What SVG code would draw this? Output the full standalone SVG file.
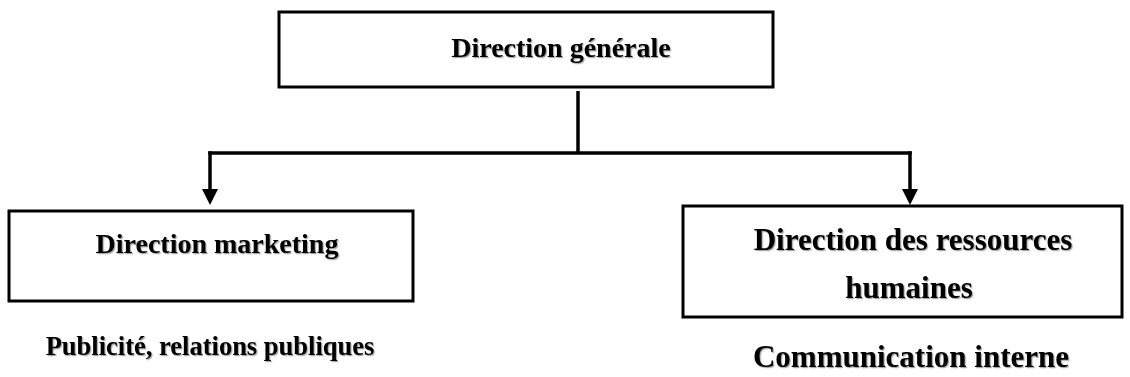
<svg xmlns="http://www.w3.org/2000/svg" width="1130" height="377" viewBox="0 0 1130 377">
  <defs>
    <filter id="sh" x="-5%" y="-20%" width="110%" height="140%">
      <feDropShadow dx="1.2" dy="1.2" stdDeviation="0.6" flood-color="#000" flood-opacity="0.35"/>
    </filter>
    <marker id="arr" markerWidth="16" markerHeight="16" refX="6" refY="8" orient="auto" markerUnits="userSpaceOnUse" viewBox="0 0 16 16">
      <path d="M0,0 L16,8 L0,16 Z" fill="#000"/>
    </marker>
  </defs>
  <style>
    .box { fill: #fff; stroke: #000; stroke-width: 3; }
    .lbl { font-family: "Liberation Serif", "Times New Roman", serif; font-weight: bold; fill: #000; filter: url(#sh); }
    .conn { fill: none; stroke: #000; stroke-width: 3.5; }
  </style>
  <rect width="1130" height="377" fill="#fff"/>

  <g id="connectors">
    <line class="conn" x1="578" y1="91" x2="578" y2="153"/>
    <line class="conn" x1="208.3" y1="153" x2="911.7" y2="153"/>
    <line class="conn" x1="210" y1="151.3" x2="210" y2="195" marker-end="url(#arr)"/>
    <line class="conn" x1="910" y1="151.3" x2="910" y2="195" marker-end="url(#arr)"/>
  </g>

  <g id="node-direction-generale">
    <rect class="box" x="279" y="12" width="494" height="75"/>
    <text class="lbl" x="561" y="57" text-anchor="middle" font-size="28">Direction générale</text>
  </g>

  <g id="node-direction-marketing">
    <rect class="box" x="9" y="211" width="404" height="90"/>
    <text class="lbl" x="217" y="253" text-anchor="middle" font-size="28">Direction marketing</text>
  </g>

  <g id="node-direction-rh">
    <rect class="box" x="683" y="206" width="439" height="111"/>
    <text class="lbl" x="913" y="250" text-anchor="middle" font-size="31">Direction des ressources</text>
    <text class="lbl" x="909" y="298" text-anchor="middle" font-size="31">humaines</text>
  </g>

  <g id="note-marketing">
    <text class="lbl" x="210" y="355" text-anchor="middle" font-size="26.5">Publicité, relations publiques</text>
  </g>

  <g id="note-rh">
    <text class="lbl" x="911" y="367" text-anchor="middle" font-size="31">Communication interne</text>
  </g>
</svg>
